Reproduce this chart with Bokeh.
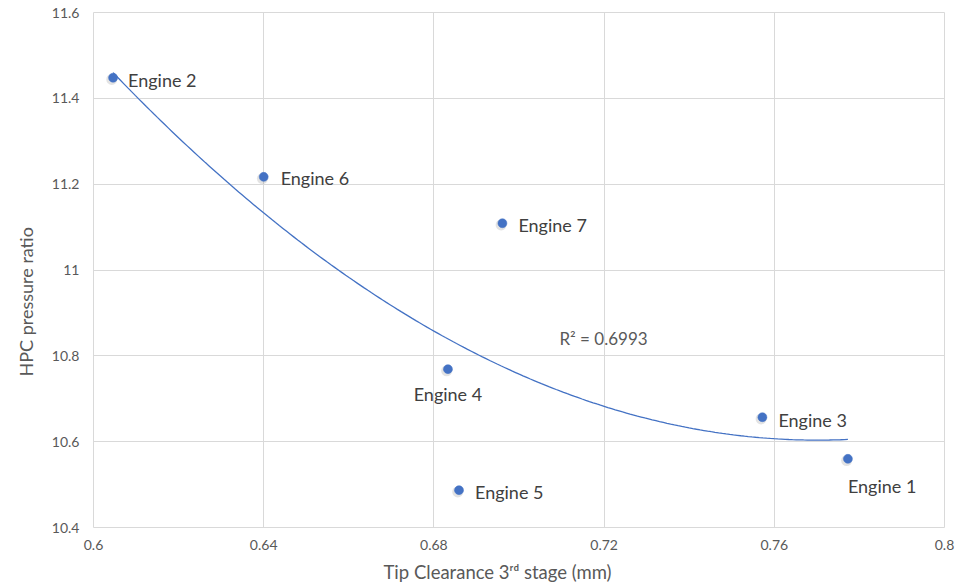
import numpy as np
from bokeh.plotting import figure
from bokeh.models import ColumnDataSource, FixedTicker, Label, LabelSet, Title
from bokeh.core.properties import value
from bokeh.transform import dodge
from bokeh.embed import file_html
from bokeh.resources import INLINE

# Measured engines: 3rd-stage tip clearance vs HPC pressure ratio
engines = ["Engine 1", "Engine 2", "Engine 3", "Engine 4", "Engine 5", "Engine 6", "Engine 7"]
clearance_mm = [0.7773, 0.6046, 0.7572, 0.6833, 0.6859, 0.6400, 0.6961]
pressure_ratio = [10.560, 11.448, 10.657, 10.769, 10.487, 11.217, 11.109]

x_ticks = [0.6, 0.64, 0.68, 0.72, 0.76, 0.8]
x_tick_labels = ["0.6", "0.64", "0.68", "0.72", "0.76", "0.8"]
y_ticks = [10.4, 10.6, 10.8, 11.0, 11.2, 11.4, 11.6]
y_tick_labels = ["10.4", "10.6", "10.8", "11", "11.2", "11.4", "11.6"]

x_title = "Tip Clearance 3\u02b3\u1d48 stage (mm)"
y_title = "HPC pressure ratio"
r2_text = "R\u00b2 = 0.6993"

# Second-order polynomial trendline over the measured range
coef = np.polyfit(clearance_mm, pressure_ratio, 2)
xs = np.linspace(min(clearance_mm), max(clearance_mm), 200)
ys = np.polyval(coef, xs)

FONT = "Lato"
BLUE = "#4472C4"
GRID = "#d9d9d9"
TICK_GRAY = "#595959"
LABEL_GRAY = "#404040"

p = figure(width=955, height=588, output_backend="svg", toolbar_location=None,
           x_range=(0.6, 0.8), y_range=(10.4, 11.6),
           min_border_left=93, min_border_right=11, min_border_top=12, min_border_bottom=60)
p.outline_line_color = GRID
p.outline_line_width = 1
p.background_fill_color = "white"
p.border_fill_color = "white"

for ax in (p.xaxis[0], p.yaxis[0]):
    ax.axis_line_color = None
    ax.major_tick_line_color = None
    ax.minor_tick_line_color = None
    ax.major_tick_out = 0
    ax.major_tick_in = 0
    ax.minor_tick_out = 0
    ax.major_label_text_font = FONT
    ax.major_label_text_font_size = "14px"
    ax.major_label_text_color = TICK_GRAY

p.xaxis.ticker = FixedTicker(ticks=x_ticks)
p.xaxis.major_label_overrides = dict(zip(x_ticks, x_tick_labels))
p.xaxis.major_label_standoff = 12

p.yaxis.ticker = FixedTicker(ticks=y_ticks)
p.yaxis.major_label_overrides = dict(zip(y_ticks, y_tick_labels))
p.yaxis.major_label_standoff = 14

p.xgrid.ticker = FixedTicker(ticks=x_ticks)
p.ygrid.ticker = FixedTicker(ticks=y_ticks)
p.xgrid.grid_line_color = GRID
p.ygrid.grid_line_color = GRID
p.xgrid.grid_line_width = 1
p.ygrid.grid_line_width = 1

# axis titles as side titles, anchored at the frame start and shifted along the axis
p.add_layout(Title(text=x_title, align="left", offset=290, standoff=12,
                   text_font=FONT, text_font_size="18.5px", text_font_style="normal",
                   text_color=TICK_GRAY), "below")
p.add_layout(Title(text=y_title, align="left", offset=151, standoff=24,
                   text_font=FONT, text_font_size="18px", text_font_style="normal",
                   text_color=TICK_GRAY), "left")

# trendline
p.line(xs, ys, line_color=BLUE, line_width=1.3)

# offsets and alignment of the data labels (screen pixels)
label_dx = {"Engine 1": 0, "Engine 2": 15, "Engine 3": 16, "Engine 4": 0,
            "Engine 5": 16, "Engine 6": 17, "Engine 7": 16}
label_dy = {"Engine 1": -27, "Engine 2": -2, "Engine 3": -3, "Engine 4": -25,
            "Engine 5": -2, "Engine 6": -1, "Engine 7": -2}
label_align = {"Engine 1": "left", "Engine 2": "left", "Engine 3": "left", "Engine 4": "center",
               "Engine 5": "left", "Engine 6": "left", "Engine 7": "left"}

src = ColumnDataSource(dict(
    x=clearance_mm, y=pressure_ratio, name=engines,
    dx=[label_dx[e] for e in engines],
    dy=[label_dy[e] for e in engines],
    align=[label_align[e] for e in engines],
))

# soft marker shadow (shifted slightly down-left), then markers
p.scatter(dodge("x", -0.0003, range=p.x_range), dodge("y", -0.004, range=p.y_range), source=src,
          size=11, fill_color="#808080", fill_alpha=0.22, line_color=None)
p.scatter("x", "y", source=src, size=9, fill_color=BLUE, line_color=BLUE, line_width=0.5)

labels = LabelSet(x="x", y="y", text="name", source=src, x_offset="dx", y_offset="dy",
                  text_align="align", text_baseline="middle",
                  text_font=value(FONT), text_font_size=value("18px"), text_color=LABEL_GRAY)
p.add_layout(labels)

p.add_layout(Label(x=0.7095, y=10.840, text=r2_text, text_baseline="middle",
                   text_font=FONT, text_font_size="17px", text_color=TICK_GRAY))

open("out.html", "w").write(file_html(p, INLINE))
